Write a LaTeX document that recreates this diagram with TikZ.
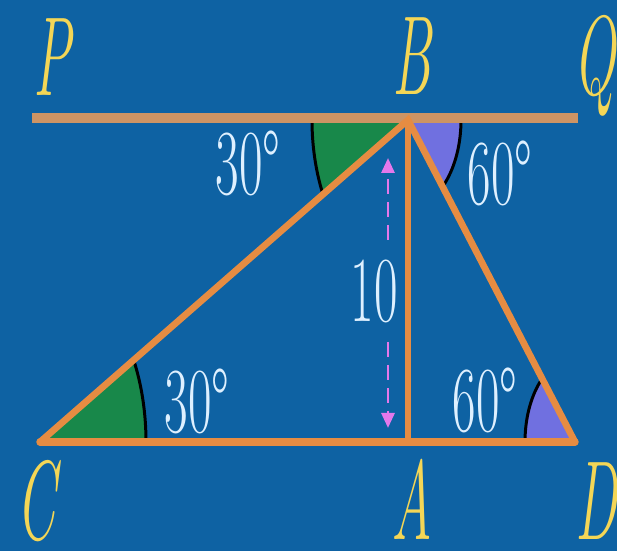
\documentclass[tikz,border=0pt]{standalone}
\usepackage{xcolor}
\usepackage{tikz}
\usetikzlibrary{arrows.meta,positioning,calc}
\definecolor{bgblue}{RGB}{14,98,163}
\definecolor{lineorange}{RGB}{230,140,66}
\definecolor{linetan}{RGB}{205,148,100}
\definecolor{anggreen}{RGB}{24,136,74}
\definecolor{angpurple}{RGB}{112,112,224}
\definecolor{dimpink}{RGB}{228,120,235}
\definecolor{txtwhite}{RGB}{222,240,255}
\definecolor{ptyellow}{RGB}{244,214,86}
\tikzset{
  ptlabel/.style={
    text=ptyellow,
    font=\fontsize{64}{64}\selectfont\itshape,
    xscale=0.5,
    inner sep=0pt,
    anchor=base
  },
  anglabel/.style={
    text=txtwhite,
    font=\fontsize{53}{53}\selectfont,
    xscale=0.55,
    inner sep=0pt,
    anchor=base
  },
  side/.style={lineorange, line width=3.8pt, line cap=round},
  angarc/.style={black, line width=1.7pt},
  dimarrow/.style={-{Triangle[length=3mm,width=2.6mm]}, dimpink, line width=1.6pt, dash pattern=on 3mm off 1.6mm}
}

\begin{document}
\begin{tikzpicture}[x=0.2mm,y=0.2mm]
\fill[bgblue] (0,0) rectangle (617,551);
\useasboundingbox (0,0) rectangle (617,551);
% points
\coordinate (C) at (40,109);
\coordinate (A) at (408,109);
\coordinate (D) at (575,109);
\coordinate (B) at (408,431);
\coordinate (P) at (32,433);
\coordinate (Q) at (578,433);
% angle marks
\begin{scope}
  \clip (C) -- (B) -- (A) -- cycle;
  \fill[anggreen] (C) ellipse [x radius=106, y radius=175];
  \draw[angarc] (C) ellipse [x radius=106, y radius=175];
\end{scope}
\begin{scope}
  \clip (B) -- (C) -- (C |- B) -- cycle;
  \fill[anggreen] (B) ellipse [x radius=96, y radius=160];
  \draw[angarc] (B) ellipse [x radius=96, y radius=160];
\end{scope}
\begin{scope}
  \clip (B) -- (D) -- (D |- B) -- cycle;
  \fill[angpurple] (B) ellipse [x radius=53, y radius=88];
  \draw[angarc] (B) ellipse [x radius=53, y radius=88];
\end{scope}
\begin{scope}
  \clip (D) -- (B) -- (A) -- cycle;
  \fill[angpurple] (D) ellipse [x radius=50, y radius=84];
  \draw[angarc] (D) ellipse [x radius=50, y radius=84];
\end{scope}
% lines
\draw[linetan, line width=5.8pt] (P) -- (Q);
\draw[side, line width=4.2pt] (C) -- (D);
\draw[side] (C) -- (B) -- (D);
\draw[side, line width=3pt] (B) -- (A);
% height
\node[anglabel] (ten) at (374,229) {10};
\coordinate (dimUp) at (388,311);
\coordinate (tipTop) at (388,393);
\coordinate (dimDn) at (388,209);
\coordinate (tipBot) at (388,123);
\draw[dimarrow] (dimUp) -- (tipTop);
\draw[dimarrow] (dimDn) -- (tipBot);
% angle values
\node[anglabel] (angBl) at (248,356) {30°};
\node[anglabel] (angBr) at (500,346) {60°};
\node[anglabel] (angC) at (197,118) {30°};
\node[anglabel] (angD) at (485,119) {60°};
% point names
\node[ptlabel] (lblP) at (52,455) {P};
\node[ptlabel] (lblB) at (412,456) {B};
\node[ptlabel] (lblQ) at (595,456) {Q};
\node[ptlabel] (lblC) at (36,11) {C};
\node[ptlabel] (lblA) at (412,11) {A};
\node[ptlabel] (lblD) at (596,11) {D};
\end{tikzpicture}
\end{document}
